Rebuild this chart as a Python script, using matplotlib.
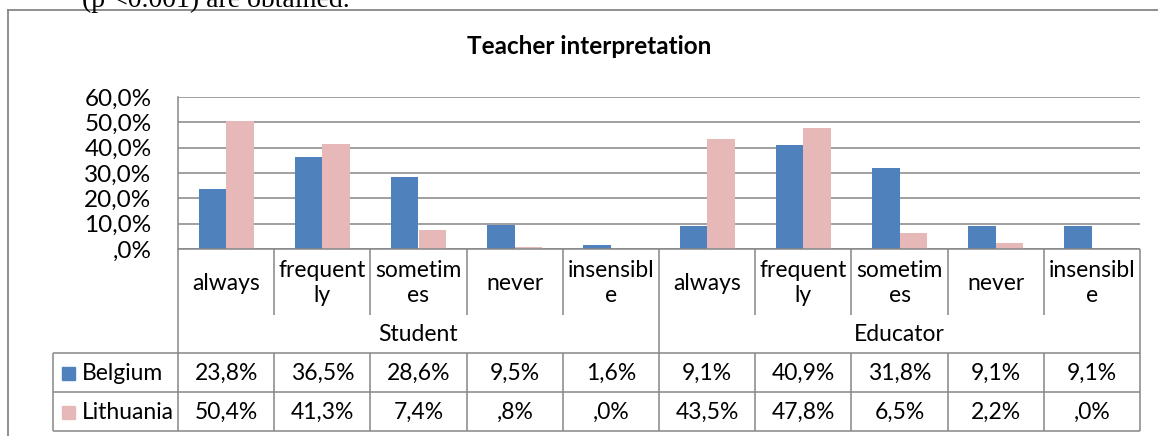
import matplotlib
matplotlib.use("Agg")
import matplotlib.pyplot as plt
import numpy as np
from matplotlib.patches import Rectangle

# chart data
groups = ["Student", "Educator"]
answers = ["always", "frequent\nly", "sometim\nes", "never", "insensibl\ne"]
series = ["Belgium", "Lithuania"]
belgium = [23.8, 36.5, 28.6, 9.5, 1.6, 9.1, 40.9, 31.8, 9.1, 9.1]
lithuania = [50.4, 41.3, 7.4, 0.8, 0.0, 43.5, 47.8, 6.5, 2.2, 0.0]
yticks = [0, 10, 20, 30, 40, 50, 60]

colors = ["#4F81BD", "#E6B9B8"]
grid_c = "#868686"
font = "Lato"
fs = 16.5


def fmt(v):
    s = f"{v:.1f}".replace(".", ",")
    if s.startswith("0,"):
        s = s[1:]
    return s + "%"


W, H = 1158, 436
fig = plt.figure(figsize=(W / 100, H / 100), dpi=100)

# plot area (pixels)
L, R, T, B = 178, 1140, 97, 249
ax = fig.add_axes([L / W, 1 - B / H, (R - L) / W, (B - T) / H])

n = len(belgium)
x = np.arange(n)
bw = 0.285
ax.bar(x - bw / 2, belgium, bw, color=colors[0], zorder=3)
ax.bar(x + bw / 2, lithuania, bw, color=colors[1], zorder=3)
ax.set_xlim(-0.5, n - 0.5)
ax.set_ylim(0, 60)
ax.set_yticks(yticks)
ax.set_yticklabels([fmt(v) for v in yticks], fontsize=17.5, family=font)
ax.tick_params(axis="y", length=0, pad=19)
ax.set_xticks([])
ax.yaxis.grid(True, color=grid_c, linewidth=1.1, zorder=0)
for s in ["top", "right", "bottom"]:
    ax.spines[s].set_visible(False)
ax.spines["left"].set_color(grid_c)
ax.spines["left"].set_linewidth(1.1)

# overlay in pixel coordinates for table, title, frame
ov = fig.add_axes([0, 0, 1, 1], zorder=5)
ov.set_xlim(0, W)
ov.set_ylim(H, 0)
ov.axis("off")
ov.patch.set_alpha(0)

lw = 1.1
cw = (R - L) / n
edges = [L + cw * i for i in range(n + 1)]
centers = [L + cw * (i + 0.5) for i in range(n)]

row_cat_bot = 315
row_grp_bot = 353
row_mid = 392
row_bot = 431
tab_left = 53

def hline(y, x0, x1):
    ov.plot([x0, x1], [y, y], color=grid_c, lw=lw, solid_capstyle="butt")

def vline(xx, y0, y1):
    ov.plot([xx, xx], [y0, y1], color=grid_c, lw=lw, solid_capstyle="butt")

hline(B, L, R)
hline(row_grp_bot, tab_left, R)
hline(row_mid, tab_left, R)
hline(row_bot, tab_left, R)
vline(tab_left, row_grp_bot, row_bot)
per = len(answers)
for i, e in enumerate(edges):
    if i % per == 0:
        vline(e, B, row_bot)
    else:
        vline(e, B, row_cat_bot)
        vline(e, row_grp_bot, row_bot)

# category labels
for i, c in enumerate(centers):
    ov.text(c, 283, answers[i % per], ha="center", va="center", fontsize=fs,
            family=font, linespacing=1.2)
for g, name in enumerate(groups):
    gx = (edges[g * per] + edges[(g + 1) * per]) / 2
    ov.text(gx, 334, name, ha="center", va="center", fontsize=fs, family=font)

# data table
rows = [belgium, lithuania]
row_cy = [373, 412]
for r, vals in enumerate(rows):
    for i, c in enumerate(centers):
        ov.text(c, row_cy[r], fmt(vals[i]), ha="center", va="center",
                fontsize=fs, family=font)
    ov.add_patch(Rectangle((62, row_cy[r] - 6.5), 13, 13, color=colors[r]))
    ov.text(82, row_cy[r], series[r], ha="left", va="center", fontsize=fs,
            family=font)

# title
ov.text(589, 47, "Teacher interpretation", ha="center", va="center",
        fontsize=17.5, weight="bold", family=font)

# outer chart frame
ov.plot([8, 8], [10, H], color=grid_c, lw=1.3)
ov.plot([8, W], [10, 10], color=grid_c, lw=1.3)

# surrounding document text, cut at the top
ov.text(82, 7, "(p <0.001) are obtained.", ha="left", va="baseline",
        fontsize=20, family="Liberation Serif")

fig.savefig("out.png", dpi=100)
